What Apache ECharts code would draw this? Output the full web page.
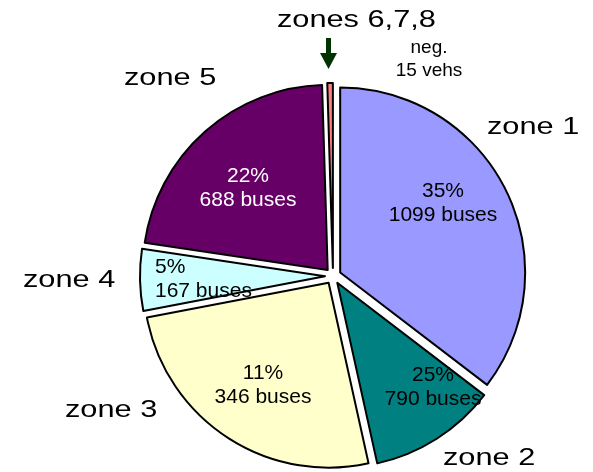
<!DOCTYPE html>
<html>
<head>
<meta charset="utf-8">
<script src="https://cdn.jsdelivr.net/npm/echarts@6/dist/echarts.min.js"></script>
<style>
  html, body { margin: 0; padding: 0; background: #fff; }
  #chart { width: 593px; height: 472px; }
</style>
</head>
<body>
<div id="chart"></div>
<script>
const zones = ['zone 1', 'zone 2', 'zone 3', 'zone 4', 'zone 5', 'zones 6,7,8']
// slice sizes as drawn in the picture (the original swaps the labels of zone 2 and 3)
const sliceValues = [1099, 346, 790, 167, 688, 15]
const pctLabels = ['35%', '25%', '11%', '5%', '22%', '']
const busLabels = [1099, 790, 346, 167, 688, 15]
const colors = ['#9999FF', '#008080', '#FFFFCC', '#CCFFFF', '#660066', '#FF8080']

const FONT = "'Liberation Sans', Arial, sans-serif"

// where the text sits inside each slice
const innerPos = [
  { x: 443, y: 203, align: 'center' },
  { x: 433, y: 387, align: 'center' },
  { x: 263, y: 385, align: 'center' },
  { x: 155, y: 279, align: 'left' },
  { x: 248, y: 188, align: 'center' }
]
// zone names around the pie
const outerPos = [[487, 127], [443, 458], [65, 410], [23, 280], [124, 78], [277, 20]]

const chart = echarts.init(document.getElementById('chart'))

const graphic = []
zones.forEach((z, i) => {
  graphic.push({
    type: 'text',
    x: outerPos[i][0],
    y: outerPos[i][1],
    scaleX: 1.28,
    silent: true,
    style: {
      text: z,
      font: '24px ' + FONT,
      fill: '#000',
      textAlign: 'left',
      textVerticalAlign: 'middle'
    }
  })
  const pos = innerPos[i]
  if (pos) {
    graphic.push({
      type: 'text',
      x: pos.x,
      y: pos.y,
      silent: true,
      z: 10,
      style: {
        text: pctLabels[i] + '\n' + busLabels[i] + ' buses',
        font: '21px ' + FONT,
        lineHeight: 24,
        fill: i === 4 ? '#fff' : '#000',
        textAlign: pos.align,
        textVerticalAlign: 'middle'
      }
    })
  }
})
// arrow pointing at the tiny slice
graphic.push({
  type: 'rect',
  shape: { x: 326, y: 38, width: 5, height: 17 },
  style: { fill: '#003300' },
  silent: true
})
graphic.push({
  type: 'polygon',
  shape: { points: [[320, 53], [337, 53], [328.5, 69]] },
  style: { fill: '#003300' },
  silent: true
})
graphic.push({
  type: 'text',
  x: 429,
  y: 59,
  silent: true,
  style: {
    text: 'neg.\n15 vehs',
    font: '19px ' + FONT,
    lineHeight: 23,
    fill: '#000',
    textAlign: 'center',
    textVerticalAlign: 'middle'
  }
})

const option = {
  animation: false,
  graphic: graphic,
  series: [
    {
      type: 'pie',
      center: [333, 276],
      radius: 185,
      startAngle: 90,
      clockwise: true,
      selectedMode: 'multiple',
      selectedOffset: 8,
      avoidLabelOverlap: false,
      emphasis: { disabled: true },
      itemStyle: {
        borderColor: '#000',
        borderWidth: 2
      },
      label: { show: false },
      labelLine: { show: false },
      data: zones.map((z, i) => ({
        name: z,
        value: sliceValues[i],
        selected: true,
        itemStyle: { color: colors[i] }
      }))
    }
  ]
}

chart.setOption(option)
</script>
</body>
</html>
